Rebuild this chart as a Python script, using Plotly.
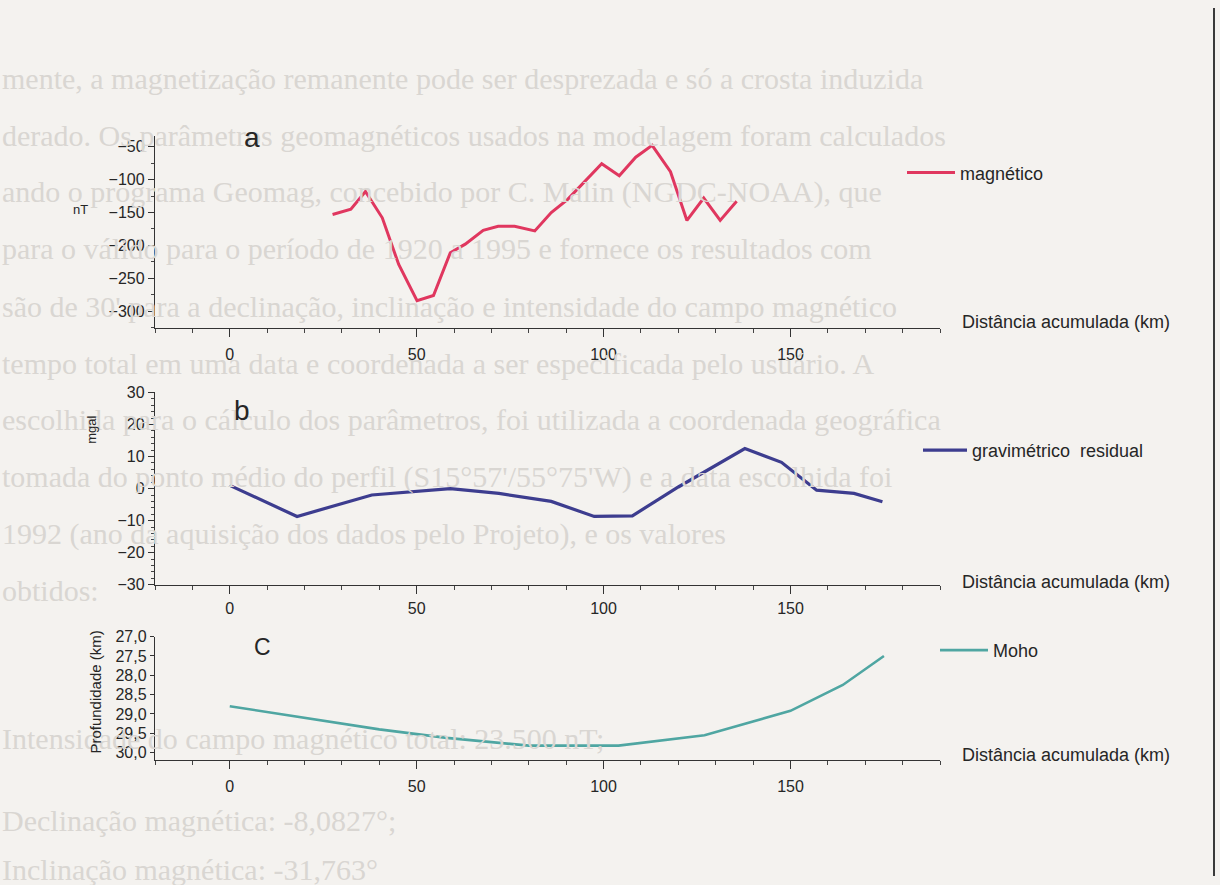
import plotly.graph_objects as go

W, H = 1220, 885

# Painel a: anomalia magnética (nT) ao longo do perfil
mag_km = [27.5, 32.4, 36.3, 40.8, 45.2, 50.1, 54.5, 59.0, 63.0, 67.8, 71.8, 76.2, 81.6,
          86.0, 90.4, 94.9, 99.5, 104.2, 108.6, 113.0, 117.9, 122.3, 126.8, 131.2, 135.6]
mag_nT = [-153, -145, -118, -158, -229, -284, -276, -211, -198, -177, -171, -171, -178,
          -150, -130, -103, -76, -94, -66, -48, -88, -162, -128, -162, -133]

# Painel b: anomalia gravimétrica residual (mgal)
grav_km = [0, 18, 38, 59, 72, 86, 97.5, 107.7, 120, 137.8, 147.6, 157, 167, 174.6]
grav_mgal = [1.0, -8.7, -2.0, 0.0, -1.5, -4.0, -8.7, -8.5, 0.5, 12.5, 8.2, -0.5, -1.5, -4.1]

# Painel c: profundidade da Moho (km)
moho_km = [0, 20, 40, 58, 80, 104, 127, 150, 164, 175]
moho_prof = [28.8, 29.1, 29.4, 29.62, 29.82, 29.82, 29.55, 28.92, 28.25, 27.5]

x_ticks = [0, 50, 100, 150]
mag_ticks = [-300, -250, -200, -150, -100, -50]
grav_ticks = [-30, -20, -10, 0, 10, 20, 30]
moho_ticks = [27.0, 27.5, 28.0, 28.5, 29.0, 29.5, 30.0]
moho_ticktext = ["27,0", "27,5", "28,0", "28,5", "29,0", "29,5", "30,0"]

x_title = "Distância acumulada (km)"

# texto da página digitalizada, ao fundo
bg_lines = [
    (72, "mente, a magnetização remanente pode ser desprezada e só a crosta induzida"),
    (130, "derado. Os parâmetros geomagnéticos usados na modelagem foram calculados"),
    (188, "ando o programa Geomag, concebido por C. Malin (NGDC-NOAA), que"),
    (245, "para o válido para o período de 1920 a 1995 e fornece os resultados com"),
    (304, "são de 30' para a declinação, inclinação e intensidade do campo magnético"),
    (362, "tempo total em uma data e coordenada a ser especificada pelo usuário. A"),
    (420, "escolhida para o cálculo dos parâmetros, foi utilizada a coordenada geográfica"),
    (478, "tomada do ponto médio do perfil (S15°57'/55°75'W) e a data escolhida foi"),
    (536, "1992 (ano da aquisição dos dados pelo Projeto), e os valores"),
    (594, "obtidos:"),
    (745, "Intensidade do campo magnético total: 23.500 nT;"),
    (828, "Declinação magnética: -8,0827°;"),
    (878, "Inclinação magnética: -31,763°"),
]

FONT = "Liberation Sans, Arial, sans-serif"
INK = "#262626"


def ydom(top, bottom):
    return [1 - bottom / H, 1 - top / H]


XDOM = [155 / W, 940 / W]

fig = go.Figure()

fig.add_trace(go.Scatter(x=mag_km, y=mag_nT, mode="lines", name="magnético",
                         line=dict(color="#e0375f", width=3), xaxis="x", yaxis="y",
                         legend="legend"))
fig.add_trace(go.Scatter(x=grav_km, y=grav_mgal, mode="lines", name="gravimétrico  residual",
                         line=dict(color="#3d3d8f", width=3.2), xaxis="x2", yaxis="y2",
                         legend="legend2"))
fig.add_trace(go.Scatter(x=moho_km, y=moho_prof, mode="lines", name="Moho",
                         line=dict(color="#4fa6a2", width=2.6), xaxis="x3", yaxis="y3",
                         legend="legend3"))


def xaxis(anchor, standoff):
    return dict(domain=XDOM, range=[-20, 190], anchor=anchor, showgrid=False, zeroline=False,
                showline=True, linecolor="#333333", linewidth=1.4,
                ticks="outside", ticklen=8, tickwidth=1.2, tickcolor="#333333",
                tickvals=x_ticks, ticklabelstandoff=standoff,
                minor=dict(tick0=0, dtick=10, ticks="outside", ticklen=4, tickwidth=1,
                           tickcolor="#444444"),
                tickfont=dict(family=FONT, size=16, color=INK))


def yaxis(anchor, dom, rng, **kw):
    d = dict(domain=dom, range=rng, anchor=anchor, showgrid=False, zeroline=False,
             showline=True, linecolor="#333333", linewidth=1.4,
             ticks="outside", ticklen=6, tickwidth=1.2, tickcolor="#333333",
             tickfont=dict(family=FONT, size=16, color=INK))
    d.update(kw)
    return d


def legend_at(xpix, ypix, itemw):
    return dict(x=xpix / W, y=1 - ypix / H, xanchor="left", yanchor="middle",
                bgcolor="rgba(0,0,0,0)", itemwidth=itemw,
                font=dict(family=FONT, size=18, color=INK))


layout = dict(
    width=W, height=885, margin=dict(l=0, r=0, t=0, b=0),
    paper_bgcolor="#f4f2ef", plot_bgcolor="rgba(0,0,0,0)",
    showlegend=True,
    xaxis=xaxis("y", 4),
    yaxis=yaxis("x", ydom(130, 326), [-325, -33], tickvals=mag_ticks,
                minor=dict(dtick=25, tick0=0, ticks="outside", ticklen=3, tickcolor="#444444")),
    xaxis2=xaxis("y2", 1),
    yaxis2=yaxis("x2", ydom(392, 588), [-30, 30], tickvals=grav_ticks,
                 minor=dict(dtick=2, tick0=0, ticks="outside", ticklen=3, tickcolor="#444444")),
    xaxis3=xaxis("y3", 3),
    yaxis3=yaxis("x3", ydom(641, 767), [30.2, 27.0], tickvals=moho_ticks,
                 ticktext=moho_ticktext, ticklen=4),
    legend=legend_at(902, 168, 48),
    legend2=legend_at(918, 451, 44),
    legend3=legend_at(935, 655, 48),
)
fig.update_layout(**layout)

annotations = []
for ypix, txt in bg_lines:
    annotations.append(dict(x=0, y=1 - ypix / H, xref="paper", yref="paper", text=txt,
                            showarrow=False, xanchor="left", yanchor="middle",
                            font=dict(family="Liberation Serif, Times New Roman, serif",
                                      size=30, color="#d9d6d2")))

for ypix in (320, 585, 762):
    annotations.append(dict(x=960 / W, y=1 - ypix / H, xref="paper", yref="paper",
                            text=x_title, showarrow=False, xanchor="left", yanchor="middle",
                            font=dict(family=FONT, size=18, color=INK)))

for (xp, yp, letter, size) in [(252, 132, "a", 28), (242, 410, "b", 28), (262, 652, "C", 23)]:
    annotations.append(dict(x=xp / W, y=1 - yp / H, xref="paper", yref="paper", text=letter,
                            showarrow=False, xanchor="center", yanchor="middle",
                            font=dict(family=FONT, size=size, color=INK)))

annotations.append(dict(x=80 / W, y=1 - 205 / H, xref="paper", yref="paper", text="nT",
                        showarrow=False, xanchor="center", yanchor="middle",
                        font=dict(family=FONT, size=13, color=INK)))
annotations.append(dict(x=92 / W, y=1 - 430 / H, xref="paper", yref="paper", text="mgal",
                        textangle=-90, showarrow=False, xanchor="center", yanchor="middle",
                        font=dict(family=FONT, size=13, color=INK)))
annotations.append(dict(x=96 / W, y=1 - 698 / H, xref="paper", yref="paper",
                        text="Profundidade (km)", textangle=-90, showarrow=False,
                        xanchor="center", yanchor="middle",
                        font=dict(family=FONT, size=15, color=INK)))

fig.update_layout(annotations=annotations)

# borda da folha à direita
fig.add_shape(type="line", xref="paper", yref="paper", x0=1214 / W, x1=1214 / W, y0=0, y1=1,
              line=dict(color="#3a3a3a", width=2))

fig.write_html("out.html")
